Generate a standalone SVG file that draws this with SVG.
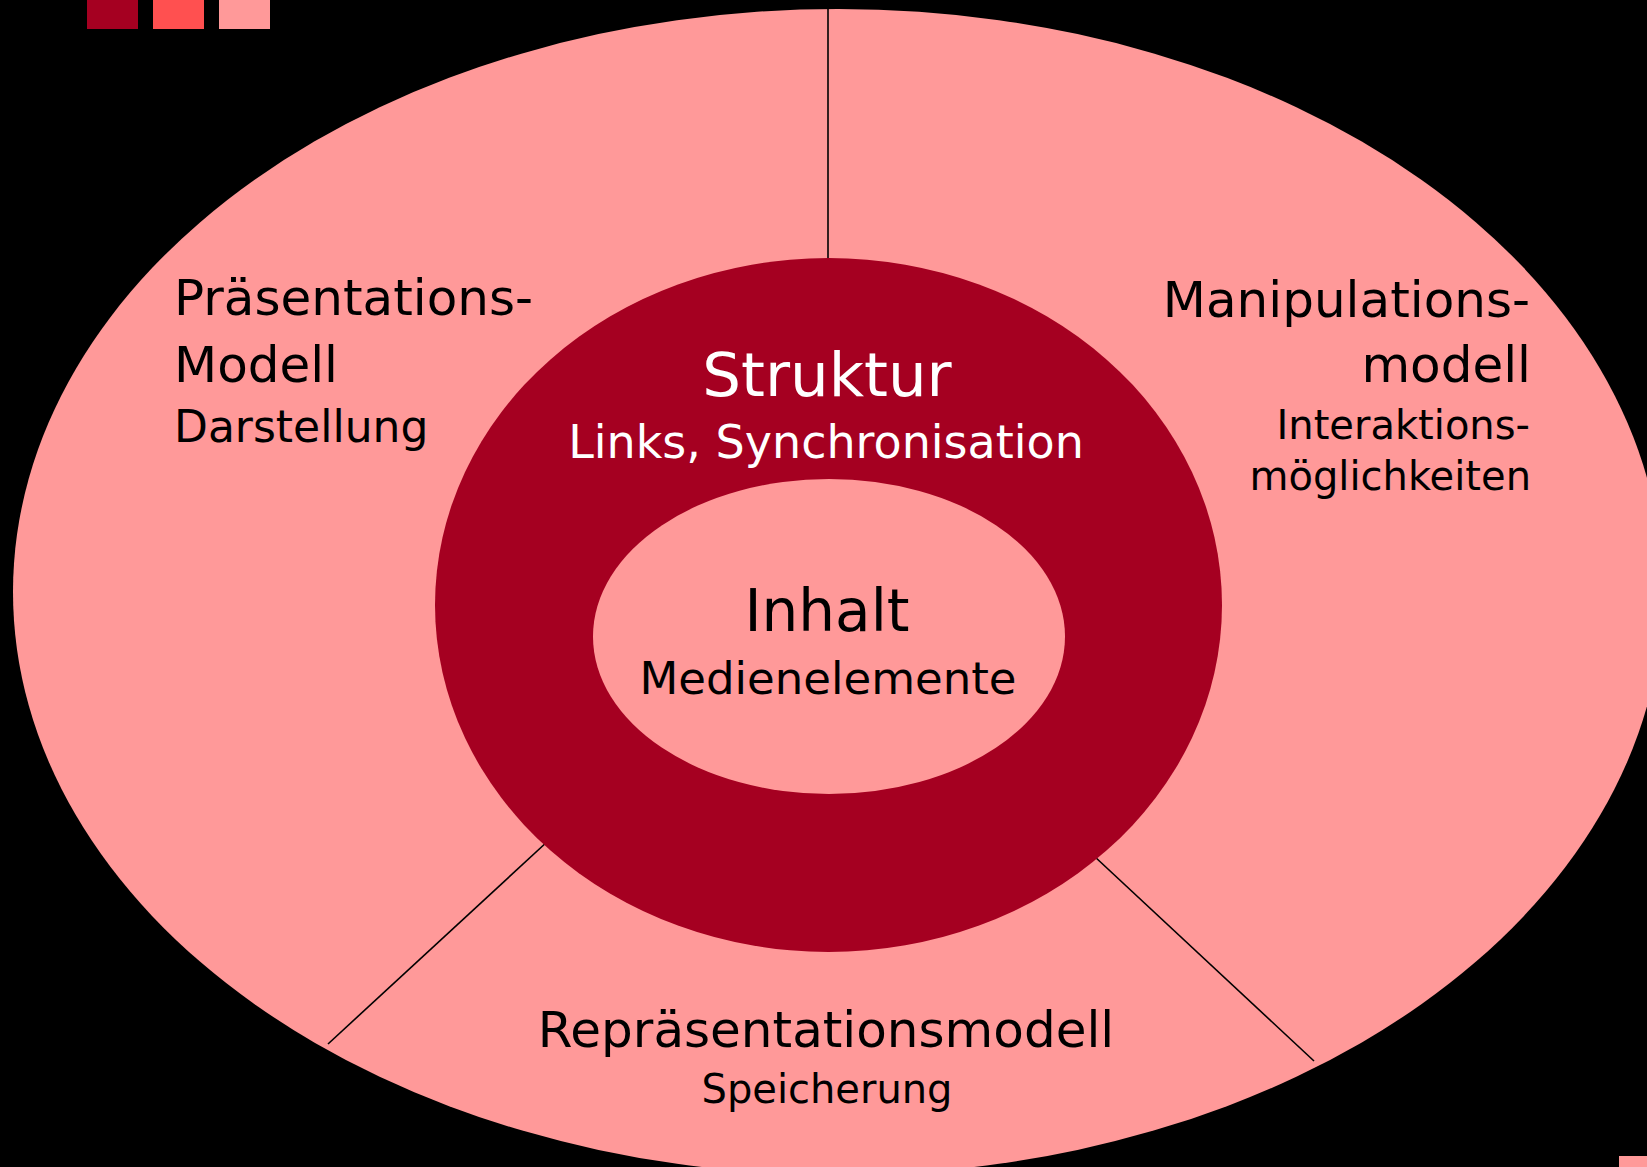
<svg xmlns="http://www.w3.org/2000/svg" width="1647" height="1167" viewBox="0 0 1647 1167">
<style>
.pink{fill:#FF9999}
.dark{fill:#A50021}
.t{font-family:"DejaVu Sans",sans-serif;fill:#000}
.w{fill:#fff}
.c{text-anchor:middle}
.e{text-anchor:end}
.ln{stroke:#000;stroke-width:1.6;fill:none}
</style>
<rect x="0" y="0" width="1647" height="1167" fill="#000"/>
<g id="legend">
<rect x="87" y="0" width="51" height="29" fill="#A50021"/>
<rect x="153" y="0" width="51" height="29" fill="#FF5050"/>
<rect x="219" y="0" width="51" height="29" fill="#FF9999"/>
<rect x="1619" y="1156" width="28" height="11" fill="#FF9999"/>
</g>
<g id="outer">
<ellipse class="pink" cx="838" cy="592" rx="825" ry="583"/>
</g>
<g id="connectors">
<line class="ln" x1="828" y1="9" x2="828" y2="259"/>
<line class="ln" x1="548" y1="841" x2="328" y2="1044"/>
<line class="ln" x1="1094" y1="856" x2="1314" y2="1061"/>
</g>
<g id="struktur">
<ellipse class="dark" cx="828.5" cy="605" rx="393.5" ry="347"/>
<text class="t w c" x="827" y="396" font-size="61">Struktur</text>
<text class="t w c" x="826" y="458" font-size="46">Links, Synchronisation</text>
</g>
<g id="inhalt">
<ellipse class="pink" cx="829" cy="636.5" rx="236" ry="157.5"/>
<text class="t c" x="827" y="631" font-size="58">Inhalt</text>
<text class="t c" x="828" y="694" font-size="45">Medienelemente</text>
</g>
<g id="praesentation">
<text class="t" x="174" y="315" font-size="50">Präsentations-</text>
<text class="t" x="174" y="382" font-size="50">Modell</text>
<text class="t" x="174" y="442" font-size="44">Darstellung</text>
</g>
<g id="manipulation">
<text class="t e" x="1530" y="317" font-size="50">Manipulations-</text>
<text class="t e" x="1531" y="382" font-size="50">modell</text>
<text class="t e" x="1530" y="439" font-size="40">Interaktions-</text>
<text class="t e" x="1531" y="490" font-size="40">möglichkeiten</text>
</g>
<g id="repraesentation">
<text class="t c" x="826" y="1047" font-size="50">Repräsentationsmodell</text>
<text class="t c" x="827" y="1103" font-size="40">Speicherung</text>
</g>
</svg>
